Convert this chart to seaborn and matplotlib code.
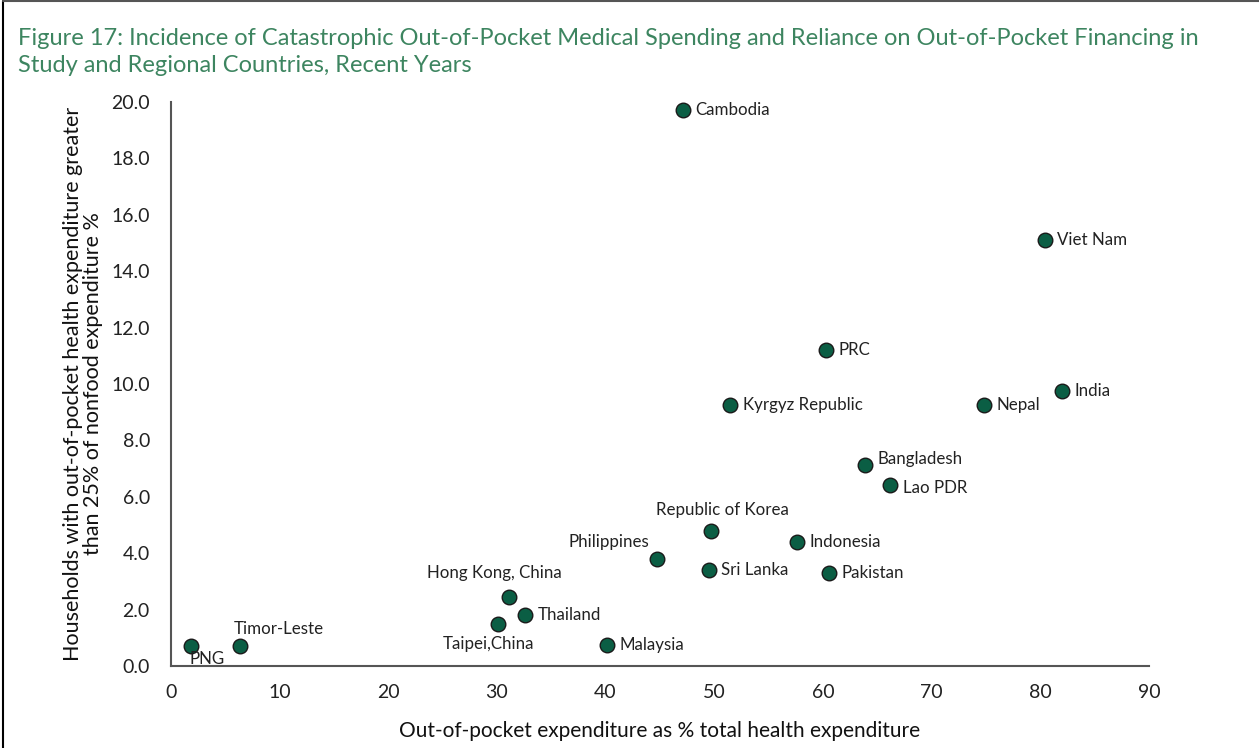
import matplotlib
matplotlib.use("Agg")
import matplotlib.pyplot as plt
import pandas as pd
import seaborn as sns

countries = ["PNG", "Timor-Leste", "Taipei,China", "Hong Kong, China", "Thailand",
             "Malaysia", "Philippines", "Republic of Korea", "Sri Lanka", "Kyrgyz Republic",
             "Cambodia", "Indonesia", "Pakistan", "PRC", "Bangladesh", "Lao PDR",
             "Nepal", "Viet Nam", "India"]
oop_share = [1.9, 6.4, 30.1, 31.1, 32.6, 40.1, 44.7, 49.7, 49.5, 51.5,
             47.1, 57.6, 60.6, 60.3, 63.9, 66.2, 74.8, 80.4, 82.0]
catastrophic = [0.72, 0.72, 1.48, 2.45, 1.82, 0.76, 3.8, 4.8, 3.4, 9.26,
                19.72, 4.4, 3.3, 11.2, 7.13, 6.42, 9.26, 15.1, 9.75]

# label placement: (dx, dy) in points, horizontal / vertical alignment
label_pos = {
    "PNG": ((-1, -4), "left", "top"),
    "Timor-Leste": ((-5, 12), "left", "center"),
    "Taipei,China": ((-7, -14), "center", "center"),
    "Hong Kong, China": ((-10, 17), "center", "center"),
    "Philippines": ((-34, 12), "center", "center"),
    "Republic of Korea": ((8, 15), "center", "center"),
    "Bangladesh": ((9, 4), "left", "center"),
    "Lao PDR": ((9, -2), "left", "center"),
}

df = pd.DataFrame({"country": countries, "oop": oop_share, "cat": catastrophic})

sns.set_style("white")
plt.rcParams["font.family"] = ["Lato", "DejaVu Sans"]

fig = plt.figure(figsize=(12.59, 7.48), dpi=100)
ax = fig.add_axes([0.1356, 0.1096, 0.777, 0.754])

sns.scatterplot(data=df, x="oop", y="cat", ax=ax, s=110, color="#0b5e44",
                edgecolor="#1a1a1a", linewidth=1.0, zorder=3, legend=False)

for name, x, y in zip(countries, oop_share, catastrophic):
    off, ha, va = label_pos.get(name, ((9, 0), "left", "center"))
    ax.annotate(name, (x, y), xytext=off, textcoords="offset points",
                ha=ha, va=va, fontsize=12.2, color="#222222")

ax.set_xlim(0, 90)
ax.set_ylim(0, 20)
ax.set_xticks(range(0, 91, 10))
ax.set_yticks([i * 2 for i in range(11)])
ax.set_yticklabels([f"{i * 2:.1f}" for i in range(11)])
sns.despine(ax=ax)
for sp in ["left", "bottom"]:
    ax.spines[sp].set_color("#555555")
    ax.spines[sp].set_linewidth(1.5)
ax.tick_params(axis="both", direction="out", length=6, width=1.2, color="#555555",
               labelsize=14, labelcolor="#222222")
ax.tick_params(axis="x", pad=7)
ax.tick_params(axis="y", pad=9)

ax.set_xlabel("Out-of-pocket expenditure as % total health expenditure",
              fontsize=15, color="#111111", labelpad=14)
ax.set_ylabel("Households with out-of-pocket health expenditure greater\n"
              "than 25% of nonfood expenditure %", fontsize=15.5, color="#111111",
              labelpad=6, linespacing=1.0)

fig.text(0.014, 0.962, "Figure 17: Incidence of Catastrophic Out-of-Pocket Medical Spending "
         "and Reliance on Out-of-Pocket Financing in\nStudy and Regional Countries, Recent Years",
         fontsize=17, color="#3d8560", va="top", ha="left", linespacing=1.3)

# frame around the figure (left and top edges)
fig.add_artist(plt.Line2D([0.002, 0.002], [0, 0.999], color="black", lw=1.5))
fig.add_artist(plt.Line2D([0.002, 1], [0.998, 0.998], color="#555555", lw=1.5))

fig.savefig("out.png", dpi=100)
